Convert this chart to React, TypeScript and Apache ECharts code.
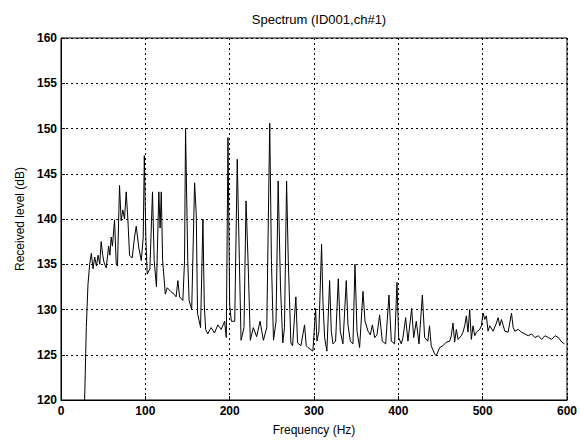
import React, { useEffect, useRef } from "react";
import * as echarts from "echarts";

const chartTitle = "Spectrum (ID001,ch#1)";
const xAxisName = "Frequency (Hz)";
const yAxisName = "Received level (dB)";

const freqHz: number[] = [
  28, 30, 32, 34, 36, 38, 40, 42, 44, 46, 47.6, 49.5, 51, 53.6, 56.5, 58, 59.5, 61, 63.5, 65.5,
  67, 69.4, 71.3, 73.3, 75.3, 77.3, 79.3, 81.3, 84.4, 87.2, 89.2, 92.3, 95.2, 97.5, 98.8, 100.6,
  102.2, 105.4, 108.5, 110.5, 113.2, 116, 117.5, 118.9, 120.5, 123.7, 126, 130, 134, 136.5, 138.6,
  140.6, 144.5, 146.5, 147.7, 148.5, 150.3, 151.9, 155, 158.4, 160.4, 161.9, 165.5, 168.3, 169.9,
  171.5, 174, 178, 182, 186, 190, 194, 196, 198, 200, 202, 206, 209, 211.5, 213.5, 217, 219.4,
  221.8, 224.5, 228, 232, 236, 240, 244, 247.5, 249.5, 252, 255, 257.5, 260.3, 263, 265, 267.5,
  269.5, 272.6, 274.6, 278.5, 280.5, 284.5, 288.8, 290.8, 292.8, 298.7, 301.9, 303.5, 305.8, 309,
  310.6, 312.6, 315.3, 318.5, 320.5, 322.5, 325.6, 328.8, 331.2, 334.3, 338.3, 340.3, 343.1, 346.2,
  348.6, 351, 354.1, 358.1, 360.5, 364.1, 366.8, 369.2, 372, 374.7, 377.8, 381, 385, 388.9, 391.7,
  395.6, 398.4, 400.4, 403.5, 405.5, 408.7, 411.4, 415.8, 418.2, 421.3, 424.5, 428.5, 431.2, 435,
  437, 439, 443, 445, 449, 453, 457, 460.9, 462.8, 464.8, 466.8, 468.8, 470.8, 474.7, 476.7, 478.7,
  480.7, 482.6, 484.6, 486.6, 488.6, 490.6, 492.6, 496.5, 498.5, 500.5, 502.5, 504.4, 506.4, 508.4,
  512.4, 516.3, 518.3, 520.3, 522.3, 526.3, 530.2, 534.2, 536.2, 538.2, 542.1, 546.1, 550.1, 554,
  558, 562, 566, 569.9, 573.9, 577.9, 581.9, 585.8, 589.8, 593.8, 597,
];

const levelDb: number[] = [
  120, 128, 132.8, 135, 136.2, 134.5, 135.8, 134.8, 136, 135, 137.5, 136, 135.2, 134.6, 137, 136,
  138, 137, 139.9, 135, 134.8, 143.7, 139.8, 141, 140, 143, 140, 136, 135.7, 138, 139.2, 136.8,
  135.4, 138, 147, 138, 133.9, 134.5, 143, 135.4, 132.5, 143, 139, 143, 135.4, 131.7, 132.4, 132,
  131.7, 131.4, 133.2, 131.4, 131, 135.4, 150, 145.5, 135.4, 131, 130, 144, 140.5, 129.6, 128, 140,
  130.5, 127.8, 127.3, 128, 127.4, 128.3, 127.8, 128.7, 126.9, 149, 130.5, 128.7, 128.7, 146.6,
  135.4, 126.6, 128, 142, 135.4, 126.6, 128, 127, 128.7, 126.6, 128, 150.6, 135.4, 126.6, 128.7,
  144.2, 132.5, 126.3, 128, 144.2, 135.4, 126.3, 126, 131.4, 126.3, 126, 128.3, 126, 125.8, 125.4,
  130.1, 126.5, 127.6, 137.2, 130.9, 126.9, 125.4, 133.2, 127.6, 126.2, 126.5, 133.4, 127.6, 126.2,
  133.2, 128.3, 126.5, 126.2, 135, 127.6, 125.8, 132, 128.7, 127.6, 127.2, 128.3, 126.9, 127.2,
  129.4, 126.5, 126.2, 131.6, 126.5, 126.2, 133, 126.9, 126.2, 126.9, 129.1, 126.5, 130.1, 126.9,
  128.7, 126.2, 131.6, 126.9, 126.5, 128.2, 126, 125.1, 124.9, 125.8, 126, 126.4, 126.5, 127.1,
  128.5, 126.4, 127.8, 126.7, 127.1, 127.5, 128.2, 129.3, 127.5, 130, 126.7, 128.2, 127.1, 127.5,
  127.8, 128.2, 129.6, 128.9, 129.3, 127.6, 128.2, 127.6, 128.5, 129.1, 128.2, 128.9, 127.6, 127.5,
  129.6, 128, 127.6, 127.8, 127.5, 127.3, 127.1, 127.3, 126.9, 127.1, 126.7, 127.1, 126.9, 126.7,
  127.1, 126.9, 126.4, 126.2,
];

const xTicks = { min: 0, max: 600, interval: 100 };
const yTicks = { min: 120, max: 160, interval: 5 };

export default function App() {
  const ref = useRef<HTMLDivElement>(null);
  useEffect(() => {
    if (!ref.current) return;
    const chart = echarts.init(ref.current, undefined, { renderer: "svg" });
    const data = freqHz.map((f, i) => [f, levelDb[i]]);
    const font = "'Liberation Sans', Arial, sans-serif";
    chart.setOption({
      animation: false,
      backgroundColor: "#fff",
      title: {
        text: chartTitle,
        left: 314,
        textAlign: "center",
        top: 8,
        textStyle: { fontSize: 13, fontWeight: "normal", color: "#000", fontFamily: font },
      },
      grid: {
        left: 61,
        right: 13,
        top: 38,
        bottom: 35,
        show: true,
        borderColor: "#000",
        borderWidth: 1,
        backgroundColor: "#fff",
      },
      xAxis: {
        type: "value",
        min: xTicks.min,
        max: xTicks.max,
        interval: xTicks.interval,
        name: xAxisName,
        nameLocation: "middle",
        nameGap: 24,
        nameTextStyle: { fontSize: 12, color: "#000", fontFamily: font },
        axisLine: { lineStyle: { color: "#000", width: 1 } },
        axisTick: { inside: true, length: 4, lineStyle: { color: "#000" } },
        axisLabel: { color: "#000", fontSize: 12, fontWeight: "bold", margin: 5, fontFamily: font },
        splitLine: { show: true, lineStyle: { color: "#000", type: [2, 3], width: 1 } },
      },
      yAxis: {
        type: "value",
        min: yTicks.min,
        max: yTicks.max,
        interval: yTicks.interval,
        name: yAxisName,
        nameLocation: "middle",
        nameGap: 34,
        nameTextStyle: { fontSize: 12, color: "#000", fontFamily: font },
        axisLine: { show: true, lineStyle: { color: "#000", width: 1 } },
        axisTick: { show: true, inside: true, length: 4, lineStyle: { color: "#000" } },
        axisLabel: { color: "#000", fontSize: 12, fontWeight: "bold", margin: 4, fontFamily: font },
        splitLine: { show: true, lineStyle: { color: "#000", type: [2, 3], width: 1 } },
      },
      series: [
        {
          type: "line",
          data,
          showSymbol: false,
          lineStyle: { color: "#000", width: 1 },
          itemStyle: { color: "#000" },
        },
      ],
    });
    return () => chart.dispose();
  }, []);
  return <div ref={ref} style={{ width: 580, height: 441, position: "absolute", left: 0, top: 0 }} />;
}
